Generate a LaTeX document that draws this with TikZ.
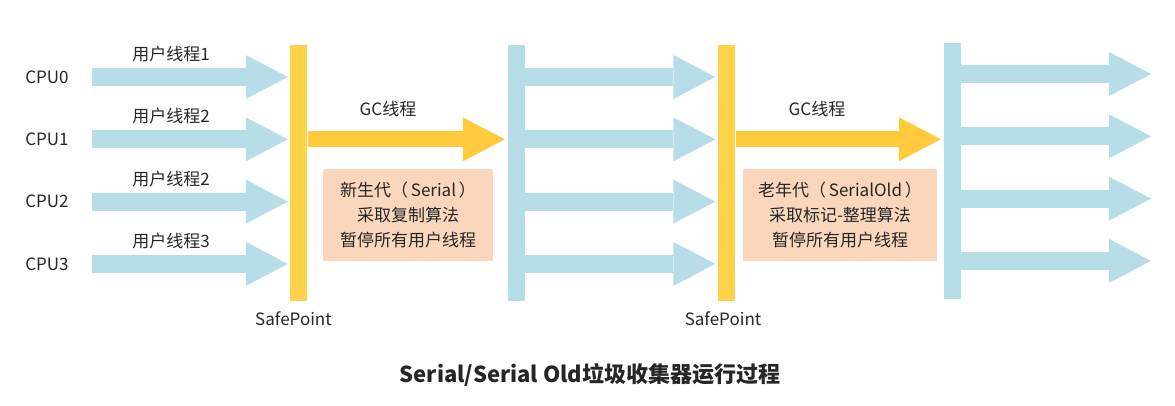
\documentclass[tikz,border=0pt]{standalone}
\usepackage{fontspec}
\setmainfont{Noto Sans CJK SC}
\usetikzlibrary{arrows.meta,positioning}
\definecolor{thread-blue}{HTML}{B6DDE8}
\definecolor{safe-yellow}{HTML}{FFD24C}
\definecolor{gc-yellow}{HTML}{FFCB3D}
\definecolor{note-peach}{HTML}{FAD7BC}
\definecolor{txt-gray}{HTML}{262626}

\begin{document}
\begin{tikzpicture}[x=1pt,y=-1pt,
  every node/.style={font=\fontsize{17}{25}\selectfont,text=txt-gray},
  bar/.style={minimum width=17pt,minimum height=256pt,inner sep=0pt},
  thread/.style={line width=18pt,draw=thread-blue,shorten >=2pt,
    -{Triangle[length=42pt,width=44pt,line width=0pt]}},
  gcthread/.style={line width=16pt,draw=gc-yellow,shorten <=1pt,shorten >=3pt,
    -{Triangle[length=42pt,width=44pt,line width=0pt]}},
  note/.style={fill=note-peach,minimum height=92pt,align=center,inner sep=0pt}]
  \useasboundingbox (0,0) rectangle (1175,405);

  % safepoints and resumed user threads
  \node[bar,fill=safe-yellow] (sp1) at (298.5,172.5) {};
  \node[bar,fill=thread-blue] (run1) at (516.5,172.5) {};
  \node[bar,fill=safe-yellow] (sp2) at (726,172.5) {};
  \node[bar,fill=thread-blue] (run2) at (952.5,171) {};
  \node[below=8pt of sp1,xshift=-5pt] (sp1-label) {SafePoint};
  \node[below=8pt of sp2,xshift=-3pt] (sp2-label) {SafePoint};
  \coordinate (exit) at (1153,-3);

  \foreach \l [count=\i from 0] in {1,2,2,3}{
    \pgfmathsetmacro{\y}{77+62.3*\i}
    \node (cpu\i) at (47,\y) {CPU\i};
    \node (user\i) at (171,\y-23) {用户线程\l};
    \draw[thread] ([xshift=20pt]cpu\i.east) -- (sp1.west |- cpu\i);
    \draw[thread] (run1.east |- cpu\i) -- (sp2.west |- cpu\i);
    \draw[thread] ([yshift=3pt]run2.east |- cpu\i) -- ([yshift=3pt]exit |- cpu\i);
  }

  % gc threads
  \draw[gcthread] (sp1.east |- cpu1) -- (run1.west |- cpu1);
  \draw[gcthread] (sp2.east |- cpu1) -- (run2.west |- cpu1);
  \node (gc1) at (388,109) {GC线程};
  \node (gc2) at (817,109) {GC线程};

  \node[note,minimum width=170pt] (young) at (408,215)
    {新生代（\,Serial\,）\\采取复制算法\\暂停所有用户线程};
  \node[note,minimum width=194pt] (old) at (840,215)
    {老年代（\,SerialOld\,）\\采取标记-整理算法\\暂停所有用户线程};

  \node[font=\fontsize{22}{26}\selectfont\bfseries] (title) at (590,375)
    {Serial/Serial Old垃圾收集器运行过程};
\end{tikzpicture}
\end{document}
